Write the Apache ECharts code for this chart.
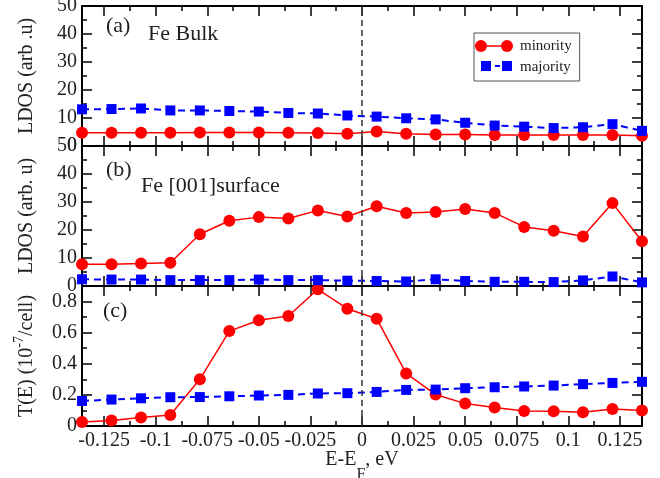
<!DOCTYPE html>
<html><head><meta charset="utf-8">
<script src="https://cdn.jsdelivr.net/npm/echarts@6/dist/echarts.min.js"></script>
<style>html,body{margin:0;padding:0;background:#fff}#c{width:660px;height:478px}</style>
</head><body><div id="c"></div>
<script>
const energies = [-0.1357,-0.1214,-0.1071,-0.0929,-0.0786,-0.0643,-0.05,-0.0357,-0.0214,-0.0071,0.0071,0.0214,0.0357,0.05,0.0643,0.0786,0.0929,0.1071,0.1214,0.1357];
const bulkMinority = [4.7,4.7,4.7,4.7,4.8,4.8,4.8,4.7,4.6,4.4,5.2,4.4,4.1,4.1,3.9,3.9,3.9,3.9,3.9,3.7];
const bulkMajority = [13.1,13.2,13.4,12.7,12.7,12.5,12.3,11.8,11.6,10.9,10.5,9.9,9.5,8.3,7.3,6.9,6.4,6.7,7.8,5.4];
const surfMinority = [7.8,7.8,8.0,8.3,18.5,23.3,24.6,24.1,27.0,24.8,28.5,26.1,26.4,27.5,26.1,21.1,19.7,17.7,29.6,16.0];
const surfMajority = [2.4,2.3,2.3,2.1,2.1,2.1,2.3,2.1,2.1,1.9,1.8,1.6,2.4,1.8,1.5,1.5,1.4,2.0,3.4,1.3];
const transMinority = [0.026,0.035,0.054,0.071,0.30,0.61,0.68,0.707,0.879,0.754,0.69,0.338,0.202,0.144,0.119,0.097,0.095,0.088,0.11,0.099];
const transMajority = [0.161,0.170,0.178,0.185,0.186,0.191,0.196,0.200,0.209,0.211,0.219,0.232,0.234,0.243,0.249,0.254,0.260,0.269,0.277,0.284];

const xMajor = [-0.125,-0.1,-0.075,-0.05,-0.025,0,0.025,0.05,0.075,0.1,0.125];
const xMinor = [-0.1125,-0.0875,-0.0625,-0.0375,-0.0125,0.0125,0.0375,0.0625,0.0875,0.1125];
const yMajorLDOS = [0,10,20,30,40,50];
const yMinorLDOS = [5,15,25,35,45];
const yMajorT = [0,0.2,0.4,0.6,0.8];
const yMinorT = [0.1,0.3,0.5,0.7];
const panelNames = ['LDOS (arb .u)', 'LDOS (arb. u)', '{n|T(E) (10}{p|-7}{n|/cell)}'];
const panelTags = ['(a)', '(b)', '(c)'];
const panelTitles = ['Fe Bulk', 'Fe [001]surface', ''];
const legendNames = ['minority', 'majority'];

const X_MIN = -0.135714, X_MAX = 0.135714;
const FONT = 'Liberation Serif';
const TXT = '#222';
const RED = '#ff0000', BLUE = '#0000ff';
const grids = [0,1,2].map(g => ({left: 82, top: 6 + 140*g, width: 560, height: 140, containLabel: false, outerBoundsMode: 'none'}));
const yRanges = [[0,50],[0,50],[0,0.9]];
const yMaj = [yMajorLDOS, yMajorLDOS, yMajorT];
const yMin = [yMinorLDOS, yMinorLDOS, yMinorT];

const tickLine = {color: '#000', width: 1.5};
const axLine = {color: '#000', width: 2};

const xAxes = [], yAxes = [];
for (let g = 0; g < 3; g++) {
  const mk = (pos, ticks, len, line, labels) => ({
    type: 'value', gridIndex: g, position: pos, min: X_MIN, max: X_MAX,
    axisLine: {show: line, onZero: false, lineStyle: axLine},
    axisTick: {show: true, inside: true, length: len, customValues: ticks, lineStyle: tickLine},
    axisLabel: {show: labels, customValues: xMajor, fontFamily: FONT, fontSize: 20, color: TXT, margin: 5},
    splitLine: {show: false}
  });
  const xb = mk('bottom', xMajor, 10, true, g === 2);
  if (g === 2) {
    xb.name = '{n|E-E}{s|F}{n|, eV}';
    xb.nameLocation = 'middle';
    xb.nameGap = 11;
    xb.nameMoveOverlap = false;
    xb.nameTextStyle = {rich: {
      n: {fontFamily: FONT, fontSize: 20, color: TXT, lineHeight: 46},
      s: {fontFamily: FONT, fontSize: 16, color: TXT, verticalAlign: 'bottom'}
    }};
  }
  xAxes.push(xb, mk('bottom', xMinor, 5, false, false), mk('top', xMajor, 10, true, false), mk('top', xMinor, 5, false, false));

  const mky = (pos, ticks, len, line, labels) => ({
    type: 'value', gridIndex: g, position: pos, min: yRanges[g][0], max: yRanges[g][1],
    axisLine: {show: line, onZero: false, lineStyle: axLine},
    axisTick: {show: true, inside: true, length: len, customValues: ticks, lineStyle: tickLine},
    axisLabel: {show: labels, customValues: yMaj[g], fontFamily: FONT, fontSize: 20, color: TXT, margin: 5},
    splitLine: {show: false}
  });
  const yl = mky('left', yMaj[g], 10, true, true);
  yl.name = panelNames[g];
  yl.nameLocation = 'middle';
  yl.nameGap = g === 2 ? 40 : 45;
  yl.nameMoveOverlap = false;
  yl.nameTextStyle = g === 2 ? {rich: {
      n: {fontFamily: FONT, fontSize: 20, color: TXT, lineHeight: 30},
      p: {fontFamily: FONT, fontSize: 14, color: TXT, verticalAlign: 'top'}
    }} : {fontFamily: FONT, fontSize: 20, color: TXT};
  yAxes.push(yl, mky('left', yMin[g], 5, false, false), mky('right', yMaj[g], 10, true, false), mky('right', yMin[g], 5, false, false));
}

const pair = arr => energies.map((e, i) => [e, arr[i]]);
const minorSets = [bulkMinority, surfMinority, transMinority];
const majorSets = [bulkMajority, surfMajority, transMajority];
const series = [];
for (let g = 0; g < 3; g++) {
  series.push({
    name: legendNames[0], type: 'line', xAxisIndex: 4*g, yAxisIndex: 4*g,
    data: pair(minorSets[g]), symbol: 'circle', symbolSize: 12, z: 2,
    itemStyle: {color: RED}, lineStyle: {color: RED, width: 1.5},
    markLine: {silent: true, symbol: ['none','none'], label: {show: false}, animation: false,
      lineStyle: {color: '#333', type: [6,4], width: 1.5}, data: [{xAxis: 0}]}
  });
  series.push({
    name: legendNames[1], type: 'line', xAxisIndex: 4*g, yAxisIndex: 4*g,
    data: pair(majorSets[g]), symbol: 'rect', symbolSize: 10, z: 3,
    itemStyle: {color: BLUE}, lineStyle: {color: BLUE, width: 2, type: [7,5]}
  });
}

const tagPos = [[106, 26.5], [106, 170], [103, 311]];
const titlePos = [[148, 34], [141, 186]];
const graphic = [];
for (let g = 0; g < 3; g++) {
  graphic.push({type: 'text', left: tagPos[g][0], top: tagPos[g][1] - 11, style: {text: panelTags[g], font: '22px "Liberation Serif"', fill: TXT}});
  if (panelTitles[g]) graphic.push({type: 'text', left: titlePos[g][0], top: titlePos[g][1] - 11, style: {text: panelTitles[g], font: '22px "Liberation Serif"', fill: TXT}});
}
// legend key glyphs (symbol - line - symbol)
graphic.push(
  {type: 'line', z: 100, shape: {x1: 481, y1: 46, x2: 507, y2: 46}, style: {stroke: RED, lineWidth: 1.5}},
  {type: 'circle', z: 100, shape: {cx: 481, cy: 46, r: 6}, style: {fill: RED}},
  {type: 'circle', z: 100, shape: {cx: 507, cy: 46, r: 6}, style: {fill: RED}},
  {type: 'line', z: 100, shape: {x1: 486, y1: 66, x2: 507, y2: 66}, style: {stroke: BLUE, lineWidth: 2, lineDash: [5, 4]}},
  {type: 'rect', z: 100, shape: {x: 481, y: 61, width: 10, height: 10}, style: {fill: BLUE}},
  {type: 'rect', z: 100, shape: {x: 502, y: 61, width: 10, height: 10}, style: {fill: BLUE}}
);

const chart = echarts.init(document.getElementById('c'), null, {renderer: 'canvas'});
chart.setOption({
  animation: false,
  backgroundColor: '#fff',
  grid: grids,
  xAxis: xAxes,
  yAxis: yAxes,
  legend: {
    data: legendNames, orient: 'vertical', left: 474, top: 33,
    padding: [6, 8, 6, 2], itemGap: 6, itemWidth: 38, itemHeight: 14,
    borderColor: '#555', borderWidth: 1, backgroundColor: '#fff',
    itemStyle: {opacity: 0}, lineStyle: {opacity: 0},
    textStyle: {fontFamily: FONT, fontSize: 15, color: TXT}
  },
  graphic: graphic,
  series: series
});
</script></body></html>
